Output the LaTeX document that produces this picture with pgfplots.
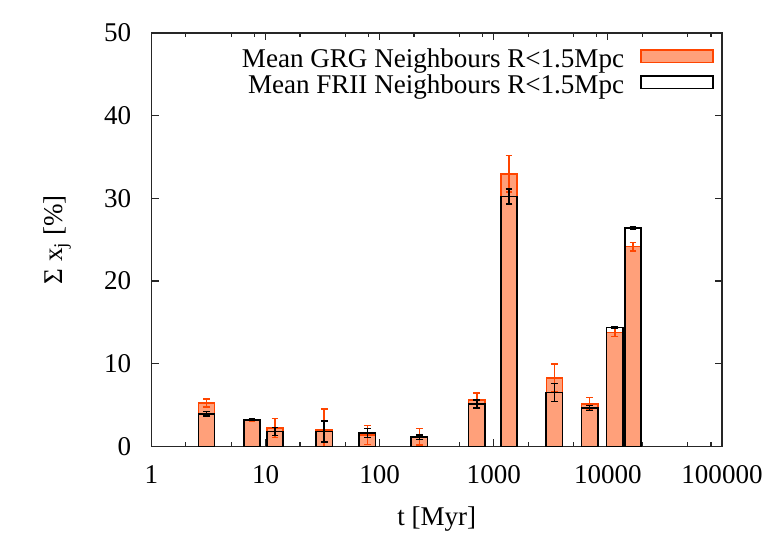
\documentclass[border=0pt]{standalone}
\usepackage{fontspec}
\setmainfont{Liberation Serif}
\usepackage{pgfplots}
\pgfplotsset{compat=1.18}
\usepackage{pgfplotstable}
\definecolor{grgfill}{RGB}{255,160,122}
\definecolor{grgline}{RGB}{255,69,0}
\newcommand\fz{\fontsize{20.3}{24}\selectfont}

\pgfplotstableread{
x     y      e
3.04  5.24   0.50
7.6   3.15   0.10
12.1  2.22   1.16
32.7  2.00   2.50
78    1.40   1.15
223   1.15   1.00
710   5.60   0.90
1360  32.97  2.20
3400  8.30   1.70
6920  5.16   0.76
11500 13.77  0.48
16600 24.15  0.53
}\grg

\pgfplotstableread{
x     y      e
3.04  3.95   0.30
7.6   3.22   0.10
12.1  1.81   0.50
32.7  1.81   1.30
78    1.62   0.55
223   1.13   0.28
710   5.12   0.47
1360  30.24  0.93
3400  6.52   1.07
6920  4.67   0.30
11500 14.37  0.12
16600 26.45  0.12
}\frii

\begin{document}
\begin{tikzpicture}
\path[use as bounding box] (0,0) rectangle (573pt,401.25pt);
\begin{axis}[
  at={(113.6pt,66.4pt)}, anchor=south west,
  scale only axis, width=427.9pt, height=310.1pt,
  xmode=log, xmin=1, xmax=100000,
  ymin=0, ymax=50,
  xtick={1,10,100,1000,10000,100000},
  xticklabels={1,10,100,1000,10000,100000},
  minor xtick={2,5,8,20,50,80,200,500,800,2000,5000,8000,20000,50000,80000},
  ytick={0,10,20,30,40,50},
  minor ytick={},
  tick align=inside,
  major tick length=5.5pt,
  minor tick length=3pt,
  axis line style={line width=0.9pt, black!85},
  every tick/.style={line width=0.9pt, black!85},
  /pgf/number format/assume math mode=true,
  tick label style={font=\fz, inner sep=0pt},
  xticklabel style={yshift=-14pt},
  yticklabel style={xshift=-15pt},
  label style={font=\fz},
  xlabel={t [Myr]},
  ylabel={Σ x\textsubscript{j} [\%]},
  x label style={at={(axis description cs:0.5,-0.175)}, anchor=center},
  y label style={at={(axis description cs:-0.165,0.5)}, anchor=center, rotate=0},
  legend plot pos=right,
  legend cell align=right,
  legend style={font=\fz, at={(axis description cs:1,1)}, anchor=north east,
    xshift=-6pt, yshift=-8pt, draw=none, fill=none, inner sep=0pt,
    nodes={inner sep=0pt}, column sep=12pt, row sep=0.3pt},
]
\addplot[ybar, bar shift=0pt, bar width=12.2pt, fill=grgfill, draw=grgline, line width=1.1pt,
  legend image code/.code={\path[draw=none, fill=none] (0pt,-2.4pt) rectangle (54pt,11.4pt);\draw[fill=grgfill, draw=grgline, line width=1.1pt] (0pt,-2.4pt) rectangle (54pt,6.9pt);},
  error bars/.cd, y dir=both, y explicit,
  error bar style={grgline, line width=1.2pt},
  error mark options={grgline, rotate=90, mark size=2.6pt, line width=1.2pt}]
  table[x=x, y=y, y error=e] {\grg};
\addlegendentry{Mean GRG Neighbours R<1.5Mpc}
\addplot[ybar, bar shift=0pt, bar width=12.2pt, fill=none, draw=black, line width=1.2pt,
  legend image code/.code={\path[draw=none, fill=none] (0pt,-2.4pt) rectangle (54pt,11.4pt);\draw[draw=black, line width=1.2pt] (0pt,-2.4pt) rectangle (54pt,6.9pt);},
  error bars/.cd, y dir=both, y explicit,
  error bar style={black, line width=1.2pt},
  error mark options={black, rotate=90, mark size=2.6pt, line width=1.2pt}]
  table[x=x, y=y, y error=e] {\frii};
\addlegendentry{Mean FRII Neighbours R<1.5Mpc}
\end{axis}
\end{tikzpicture}
\end{document}
